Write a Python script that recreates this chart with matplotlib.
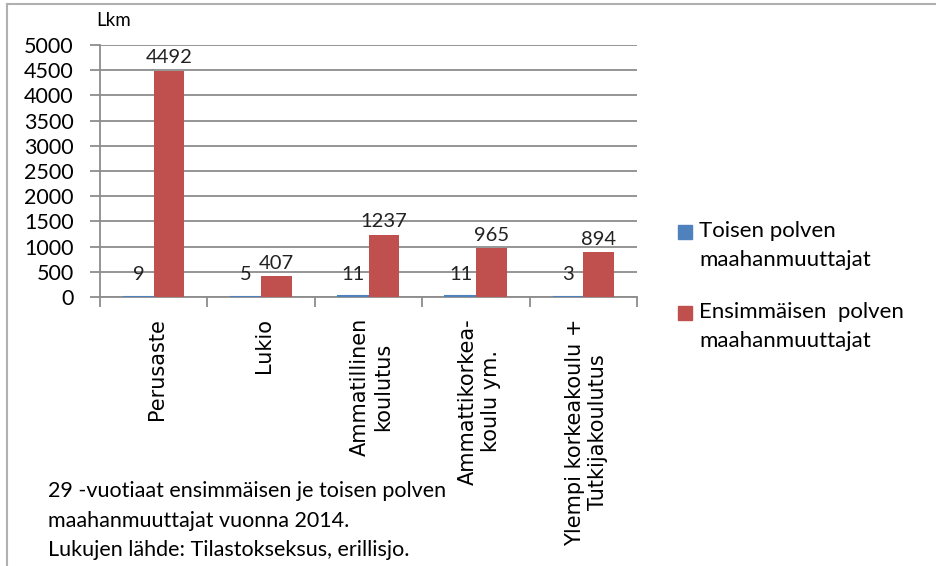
import matplotlib
matplotlib.use("Agg")
import matplotlib.pyplot as plt
from matplotlib.patches import Rectangle
from matplotlib.lines import Line2D
from matplotlib.transforms import blended_transform_factory
from matplotlib.font_manager import FontProperties
import numpy as np

categories = ["Perusaste", "Lukio", "Ammatillinen\nkoulutus",
              "Ammattikorkea-\nkoulu ym.", "Ylempi korkeakoulu +\nTutkijakoulutus"]
toinen = [9, 5, 11, 11, 3]
ensimmainen = [4492, 407, 1237, 965, 894]
series_names = ["Toisen polven\nmaahanmuuttajat", "Ensimmäisen  polven\nmaahanmuuttajat"]
colors = ["#4F81BD", "#C0504D"]
yticks = [0, 500, 1000, 1500, 2000, 2500, 3000, 3500, 4000, 4500, 5000]

plt.rcParams['font.family'] = ['Lato', 'DejaVu Sans']

W, H = 937, 566
fig = plt.figure(figsize=(W / 100, H / 100), dpi=100)
ax = fig.add_axes([100 / W, 1 - 297 / H, 537 / W, 252 / H])

x = np.arange(len(categories))
bw = 0.285
b1 = ax.bar(x - bw / 2, toinen, bw, color=colors[0], edgecolor=colors[0], linewidth=1.5, zorder=3)
b2 = ax.bar(x + bw / 2, ensimmainen, bw, color=colors[1], zorder=3)

for rect, v in zip(b1, toinen):
    ax.annotate(str(v), (rect.get_x() + rect.get_width() / 2, rect.get_height()),
                xytext=(0, 10), textcoords="offset points", ha="center", va="bottom",
                fontsize=14.5, color="#222222")
for rect, v in zip(b2, ensimmainen):
    ax.annotate(str(v), (rect.get_x() + rect.get_width() / 2, rect.get_height()),
                xytext=(0, 3), textcoords="offset points", ha="center", va="bottom",
                fontsize=14.5, color="#222222")

ax.set_xlim(-0.5, len(categories) - 0.5)
ax.set_ylim(0, 5000)
ax.set_yticks(yticks)
ax.set_yticklabels([str(t) for t in yticks], fontsize=15.5)
ax.yaxis.grid(True, color="#8c8c8c", linewidth=1.3, zorder=0)
ax.set_axisbelow(True)
ax.tick_params(axis="y", length=7, color="#8c8c8c", width=1.3, pad=12)

# category boundary ticks
ax.set_xticks(np.arange(-0.5, len(categories) + 0.5, 1.0))
ax.set_xticklabels([])
ax.tick_params(axis="x", length=7, color="#8c8c8c", width=1.3)

# category labels
cat_fp = FontProperties(family="DejaVu Sans", size=15)
trans = blended_transform_factory(ax.transData, ax.transAxes)
for xi, cat in zip(x, categories):
    ax.text(xi + 0.03, -21 / 252, cat, transform=trans, rotation=90,
            ha="center", va="top", multialignment="center",
            fontproperties=cat_fp, linespacing=1.2, clip_on=False)

for s in ["top", "right"]:
    ax.spines[s].set_visible(False)
for s in ["left", "bottom"]:
    ax.spines[s].set_color("#8c8c8c")
    ax.spines[s].set_linewidth(1.3)

fig.text(96 / W, 1 - 20 / H, "Lkm", fontsize=13.5, va="center", ha="left")

# legend
leg_y = [232, 313]
for c, name, yy in zip(colors, series_names, leg_y):
    fig.add_artist(Rectangle((678 / W, 1 - (yy + 7) / H), 14 / W, 14 / H,
                             color=c, transform=fig.transFigure))
    fig.text(699 / W, 1 - (yy - 11) / H, name, fontsize=16, va="top", ha="left",
             linespacing=1.55)

# footnote
fig.text(48 / W, 1 - 481 / H,
         "29 -vuotiaat ensimmäisen je toisen polven\nmaahanmuuttajat vuonna 2014.\nLukujen lähde: Tilastokseksus, erillisjo.",
         fontsize=15.5, va="top", ha="left", linespacing=1.6)

# frame
fig.add_artist(Line2D([7 / W, 7 / W], [0, 1 - 4 / H], color="#b0b0b0", linewidth=1.5,
                      transform=fig.transFigure))
fig.add_artist(Line2D([7 / W, 1], [1 - 4 / H, 1 - 4 / H], color="#b0b0b0", linewidth=1.5,
                      transform=fig.transFigure))

fig.savefig("out.png", dpi=100)
